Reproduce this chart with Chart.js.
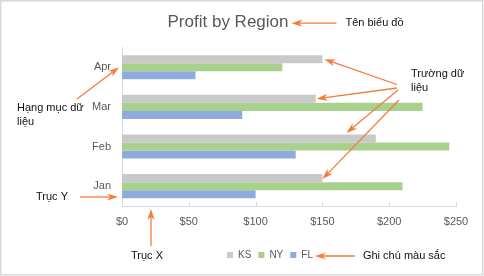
<!DOCTYPE html>
<html>
<head>
<meta charset="utf-8">
<script src="https://cdn.jsdelivr.net/npm/chart.js@4/dist/chart.umd.min.js"></script>
<style>
  html, body { margin: 0; padding: 0; background: #ffffff; }
  #wrap { width: 484px; height: 276px; }
</style>
</head>
<body>
<div id="wrap"><canvas id="chart" width="484" height="276"></canvas></div>
<script>
// Profit per month and region (top-to-bottom order on the category axis)
const months = ['Apr', 'Mar', 'Feb', 'Jan'];
const ksProfit = [150, 145, 190, 150];
const nyProfit = [120, 225, 245, 210];
const flProfit = [55, 90, 130, 100];
const regions = ['KS', 'NY', 'FL'];
const xTickValues = [0, 50, 100, 150, 200, 250];

// Explanatory callouts naming each part of the chart
const calloutTexts = {
  title: ['Tên biểu đồ'],
  series: ['Trường dữ', 'liệu'],
  category: ['Hạng mục dữ', 'liệu'],
  yAxis: ['Trục Y'],
  xAxis: ['Trục X'],
  legend: ['Ghi chú màu sắc']
};

const GREY_TEXT = '#595959';
const AXIS_LINE = '#d9d9d9';
const ARROW = '#f47b3c';
const LABEL_FONT = '"Liberation Sans", Arial, sans-serif';
const LEGEND_SHIFT = 42;

function drawArrow(ctx, x1, y1, x2, y2) {
  const a = Math.atan2(y2 - y1, x2 - x1);
  const len = 11, half = 3.6;
  ctx.save();
  ctx.strokeStyle = ARROW;
  ctx.fillStyle = ARROW;
  ctx.lineWidth = 1.3;
  ctx.beginPath();
  ctx.moveTo(x1, y1);
  ctx.lineTo(x2 - Math.cos(a) * len * 0.6, y2 - Math.sin(a) * len * 0.6);
  ctx.stroke();
  ctx.translate(x2, y2);
  ctx.rotate(a);
  ctx.beginPath();
  ctx.moveTo(0, 0);
  ctx.lineTo(-len, -half);
  ctx.lineTo(-len * 0.7, 0);
  ctx.lineTo(-len, half);
  ctx.closePath();
  ctx.fill();
  ctx.restore();
}

function drawText(ctx, lines, x, y, lineGap) {
  ctx.save();
  ctx.font = '11px ' + LABEL_FONT;
  ctx.fillStyle = '#111111';
  ctx.textAlign = 'left';
  ctx.textBaseline = 'middle';
  lines.forEach((t, i) => ctx.fillText(t, x, y + i * lineGap));
  ctx.restore();
}

const frameAndCallouts = {
  id: 'frameAndCallouts',
  afterLayout(chart) {
    // move the legend row towards the right, under the bars
    const lg = chart.legend;
    lg.left += LEGEND_SHIFT;
    lg.right += LEGEND_SHIFT;
  },
  afterDraw(chart) {
    const { ctx, chartArea: area, scales: { x, y } } = chart;

    // outer frame
    ctx.save();
    ctx.strokeStyle = AXIS_LINE;
    ctx.lineWidth = 1.5;
    ctx.strokeRect(0.75, 0.75, chart.width - 2, chart.height - 2);

    // small inward tick marks on the value axis
    ctx.lineWidth = 1;
    xTickValues.forEach(v => {
      const px = Math.round(x.getPixelForValue(v)) + 0.5;
      ctx.beginPath();
      ctx.moveTo(px, area.bottom);
      ctx.lineTo(px, area.bottom - 4);
      ctx.stroke();
    });
    ctx.restore();

    // title callout
    const tb = chart.titleBlock;
    ctx.save();
    ctx.font = tb.options.font.size + 'px ' + LABEL_FONT;
    const titleW = ctx.measureText(tb.options.text).width;
    ctx.restore();
    const titleY = tb.top + tb.options.padding.top + (tb.options.font.size * 1.2) / 2 + 1;
    const titleTip = (tb.left + tb.right) / 2 + titleW / 2 + 3;
    drawArrow(ctx, titleTip + 45, titleY, titleTip, titleY);
    drawText(ctx, calloutTexts.title, titleTip + 54, titleY, 14);

    // data series callout: arrows to the KS bars
    const ks = chart.getDatasetMeta(0).data;
    drawText(ctx, calloutTexts.series, 411, 74, 14);
    drawArrow(ctx, 397, 84.5, ks[0].x + 2, ks[0].y);
    drawArrow(ctx, 397, 88, ks[1].x + 1, ks[1].y);
    drawArrow(ctx, 398, 90, x.getPixelForValue(168), ks[2].y - ks[2].height / 2 - 1.5);
    drawArrow(ctx, 399, 100, ks[3].x, ks[3].y + 1);

    // category callout
    drawText(ctx, calloutTexts.category, 17, 108, 14);
    drawArrow(ctx, 77, 99, area.left - 3, y.getPixelForValue(0));

    // axis callouts
    drawText(ctx, calloutTexts.yAxis, 36, 197, 14);
    drawArrow(ctx, 80, 197, area.left - 4, 197);
    drawText(ctx, calloutTexts.xAxis, 131, 256, 14);
    drawArrow(ctx, 151, 246, 151, area.bottom + 3);

    // legend callout (hit boxes already follow the shifted legend)
    const lg = chart.legend;
    const last = lg.legendHitBoxes[lg.legendHitBoxes.length - 1];
    const legTip = last.left + last.width + 2;
    const legY = last.top + last.height / 2 + 1;
    drawArrow(ctx, legTip + 40, legY, legTip, legY);
    drawText(ctx, calloutTexts.legend, legTip + 48, legY, 14);
  }
};

new Chart(document.getElementById('chart'), {
  type: 'bar',
  data: {
    labels: months,
    datasets: [
      { label: regions[0], data: ksProfit, backgroundColor: '#c9c9c9' },
      { label: regions[1], data: nyProfit, backgroundColor: '#a9d18e' },
      { label: regions[2], data: flProfit, backgroundColor: '#8faadc' }
    ]
  },
  options: {
    indexAxis: 'y',
    responsive: false,
    animation: false,
    devicePixelRatio: 1,
    datasets: { bar: { barPercentage: 1, categoryPercentage: 0.61, borderWidth: 0 } },
    layout: { padding: { left: 0, right: 28, top: 0, bottom: 6 } },
    scales: {
      x: {
        min: 0,
        max: 250,
        afterBuildTicks(scale) { scale.ticks = xTickValues.map(v => ({ value: v })); },
        afterFit(scale) { scale.height = 37; },
        grid: { display: false, drawTicks: false },
        border: { display: true, color: AXIS_LINE, width: 1 },
        ticks: {
          padding: 9,
          color: GREY_TEXT,
          font: { family: LABEL_FONT, size: 11 },
          maxRotation: 0,
          callback: v => '$' + v
        }
      },
      y: {
        afterFit(scale) { scale.width = 122; },
        grid: { display: false, drawTicks: false },
        border: { display: true, color: AXIS_LINE, width: 1 },
        ticks: {
          padding: 11,
          color: GREY_TEXT,
          font: { family: LABEL_FONT, size: 11 }
        }
      }
    },
    plugins: {
      title: {
        display: true,
        text: 'Profit by Region',
        color: GREY_TEXT,
        font: { family: LABEL_FONT, size: 17, weight: 'normal' },
        padding: { top: 12, bottom: 15 }
      },
      legend: {
        position: 'bottom',
        labels: {
          boxWidth: 6,
          boxHeight: 6,
          padding: 7,
          color: GREY_TEXT,
          font: { family: LABEL_FONT, size: 10 }
        }
      },
      tooltip: { enabled: false }
    }
  },
  plugins: [frameAndCallouts]
});
</script>
</body>
</html>
